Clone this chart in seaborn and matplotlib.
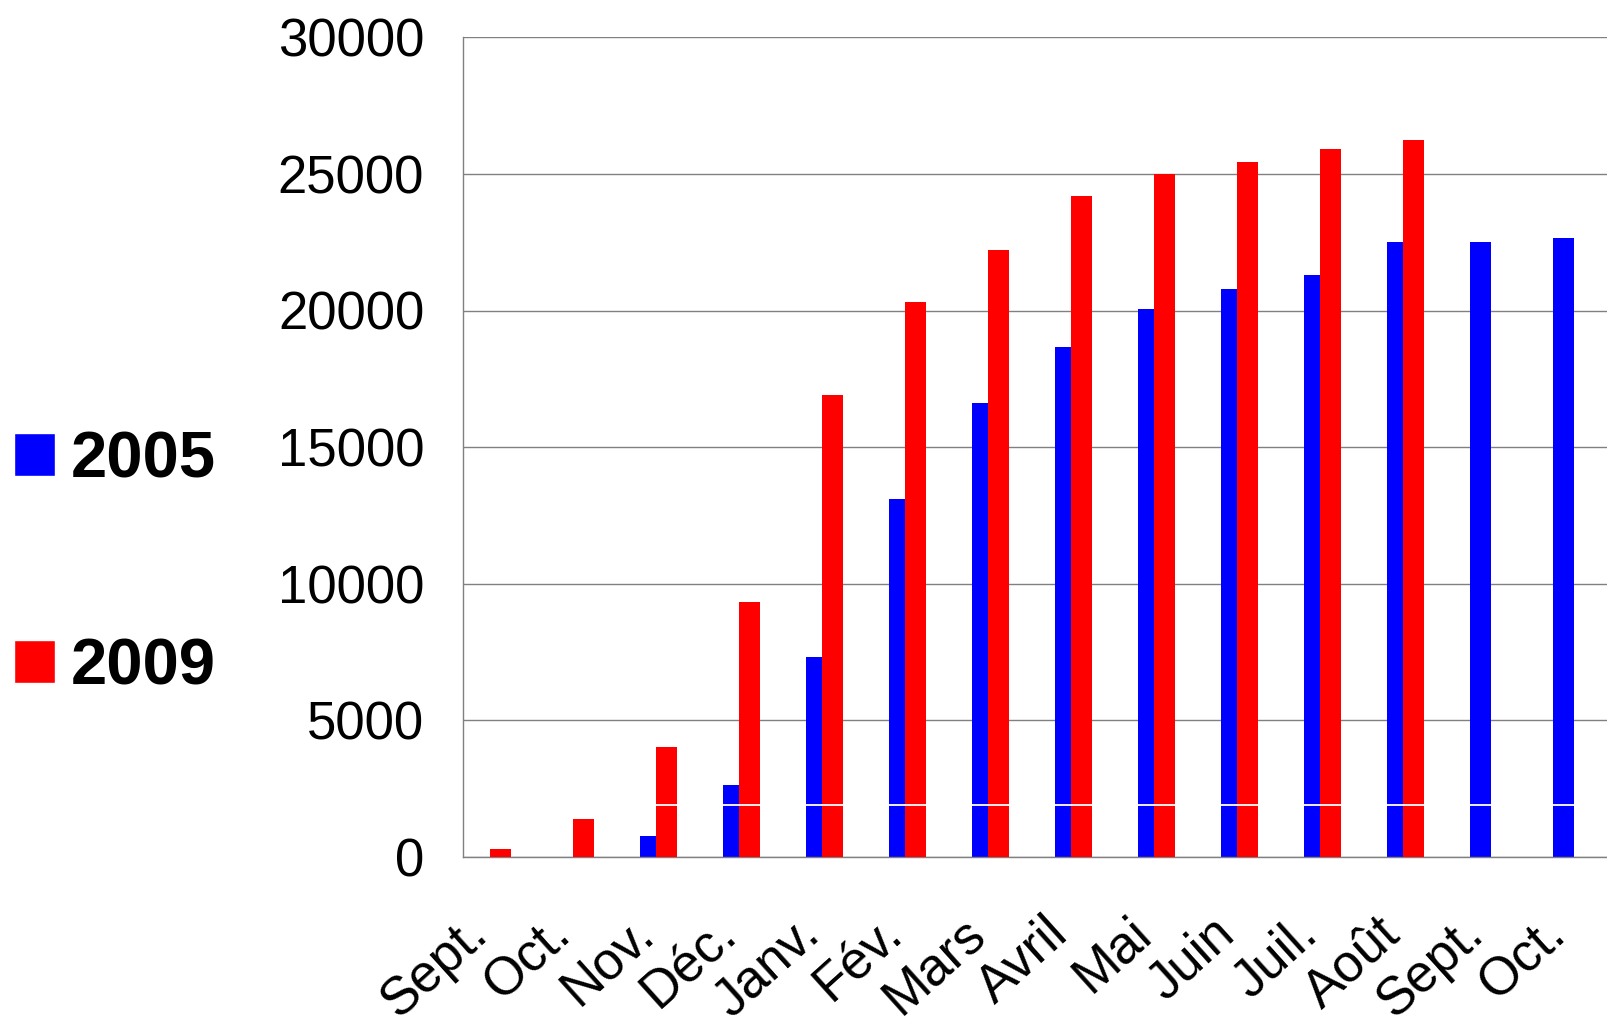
import numpy as np
import pandas as pd
import matplotlib
matplotlib.use("Agg")
import matplotlib.pyplot as plt
import matplotlib.transforms as mtransforms
import seaborn as sns
from matplotlib.patches import Patch

mois = ["Sept.", "Oct.", "Nov.", "Déc.", "Janv.", "Fév.", "Mars",
        "Avril", "Mai", "Juin", "Juil.", "Août", "Sept.", "Oct."]
v2005 = [np.nan, np.nan, 760, 2630, 7320, 13100, 16600,
         18650, 20050, 20800, 21300, 22500, 22500, 22650]
v2009 = [280, 1380, 4020, 9340, 16900, 20300, 22200,
         24200, 25000, 25450, 25900, 26250, np.nan, np.nan]
yticks = [0, 5000, 10000, 15000, 20000, 25000, 30000]

sns.set_style("white")
plt.rcParams["font.family"] = ["Liberation Sans", "DejaVu Sans"]
plt.rcParams["text.color"] = "black"
plt.rcParams["xtick.color"] = "black"
plt.rcParams["ytick.color"] = "black"

pos = np.arange(len(mois))
df05 = pd.DataFrame({"x": pos - 0.24, "y": v2005}).dropna()
df09 = pd.DataFrame({"x": pos - 0.045, "y": v2009}).dropna()

fig = plt.figure(figsize=(16.08, 10.35), dpi=100)
ax = fig.add_axes([0.288, 0.172, 0.712, 0.792])

sns.barplot(data=df05, x="x", y="y", native_scale=True, width=0.25,
            color="#0000ff", saturation=1, ax=ax, zorder=2)
sns.barplot(data=df09, x="x", y="y", native_scale=True, width=0.25,
            color="#ff0000", saturation=1, ax=ax, zorder=3)
for p in ax.patches:
    p.set_linewidth(0)

# thin white line crossing the bars
ax.hlines(1920, -0.45, 13.4, color="white", lw=1.3, zorder=5)

ax.set_ylim(0, 30000)
ax.set_xlim(-0.5, 13.3)
ax.set_yticks(yticks)
ax.set_yticklabels([str(t) for t in yticks], fontsize=38)
ax.yaxis.grid(True, color="#808080", lw=1)
ax.set_axisbelow(True)

ax.set_xticks(np.arange(-0.5, 13.5, 1))
ax.set_xticklabels([])
ax.set_xticks(pos, minor=True)
ax.set_xticklabels(mois, minor=True, rotation=42, fontsize=38,
                   rotation_mode="anchor", ha="right", va="center")
ax.tick_params(axis="x", which="major", length=15, color="#808080", width=1)
ax.tick_params(axis="x", which="minor", length=0, pad=50)
ax.tick_params(axis="y", length=14, color="#808080", width=1, pad=14)
ax.tick_params(axis="both", direction="out")
ax.set_xlabel("")
ax.set_ylabel("")

shift = mtransforms.ScaledTranslation(-24 / 100, 0, fig.dpi_scale_trans)
for lab in ax.get_xticklabels(minor=True):
    lab.set_transform(lab.get_transform() + shift)

for s in ["top", "right"]:
    ax.spines[s].set_visible(False)
for s in ["left", "bottom"]:
    ax.spines[s].set_color("#808080")
    ax.spines[s].set_linewidth(1)

handles = [Patch(facecolor="#0000ff", label="2005"),
           Patch(facecolor="#ff0000", label="2009")]
fig.legend(handles=handles, loc="center left", bbox_to_anchor=(-0.02, 0.455),
           frameon=False, prop={"size": 47, "weight": "bold"},
           handlelength=0.63, handleheight=0.63, handletextpad=0.25,
           labelspacing=2.25, borderpad=0.2)

fig.savefig("out.png", dpi=100)
